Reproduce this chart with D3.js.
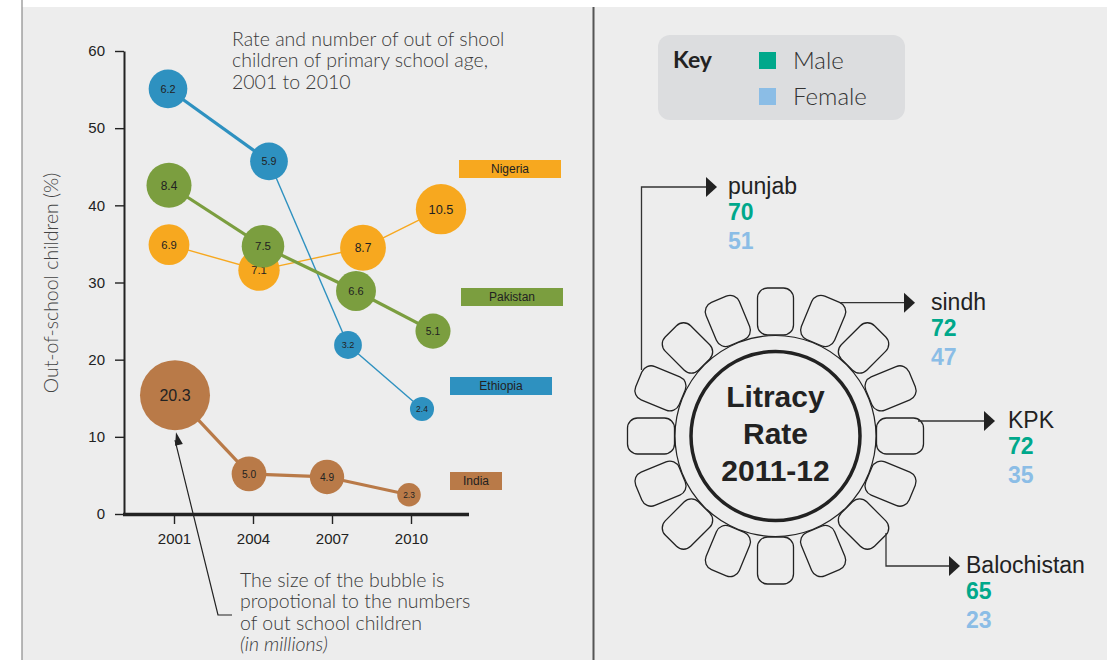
<!DOCTYPE html>
<html>
<head>
<meta charset="utf-8">
<script src="https://cdn.jsdelivr.net/npm/d3@7"></script>
<style>
  body { margin: 0; background: #fff; }
  svg { display: block; }
</style>
</head>
<body>
<script>
// Out-of-school data (left chart)
const years = [2001, 2004, 2007, 2010];
const countries = ["Nigeria", "Ethiopia", "Pakistan", "India"];
const ethiopiaRate = [55.1, 45.7, 21.9, 13.6];
const pakistanRate = [42.6, 34.7, 28.9, 23.7];
const nigeriaRate = [34.9, 31.6, 34.5, 39.5];
const indiaRate = [15.4, 5.2, 4.8, 2.5];
const ethiopiaMillions = [6.2, 5.9, 3.2, 2.4];
const pakistanMillions = [8.4, 7.5, 6.6, 5.1];
const nigeriaMillions = [6.9, 7.1, 8.7, 10.5];
const indiaMillions = [20.3, 5.0, 4.9, 2.3];
const yTicks = [0, 10, 20, 30, 40, 50, 60];

// Literacy data (right panel)
const provinces = ["punjab", "sindh", "KPK", "Balochistan"];
const maleRate = [70, 72, 72, 65];
const femaleRate = [51, 47, 35, 23];

// series table built from the arrays above
const rates = { Ethiopia: ethiopiaRate, Pakistan: pakistanRate, Nigeria: nigeriaRate, India: indiaRate };
const millions = { Ethiopia: ethiopiaMillions, Pakistan: pakistanMillions, Nigeria: nigeriaMillions, India: indiaMillions };

// styling
const colors = { Ethiopia: "#2e91c0", Pakistan: "#7b9e3f", Nigeria: "#f7a81f", India: "#b97a48" };
const segWidth = { Ethiopia: [3.2, 1.4, 1.4], Pakistan: [3.2, 3.2, 3.2], Nigeria: [1.4, 1.4, 1.4], India: [3.2, 3.2, 3.2] };
// hand dodge of bubbles (px) so they don't sit on top of each other
const dodgeX = { Ethiopia: [-6, 16, 16, 11], Pakistan: [-5, 10, 24, 22], Nigeria: [-5, 6, 31, 30], India: [1, -4, -5, -2] };
// country tags
const tags = {
  Nigeria: { x: 459, y: 160, w: 102 },
  Pakistan: { x: 461, y: 288, w: 102 },
  Ethiopia: { x: 450, y: 377, w: 102 },
  India: { x: 450, y: 472, w: 52 }
};
const maleColor = "#00a88b";
const femaleColor = "#8bbde6";
const lightFont = "Lato, 'Open Sans', sans-serif";
const sansFont = "'Liberation Sans', Arial, sans-serif";

const svg = d3.select("body").append("svg")
  .attr("width", 1117)
  .attr("height", 660);

// panels
svg.append("rect").attr("x", 22).attr("y", 7).attr("width", 1085).attr("height", 653).attr("fill", "#ededed");
svg.append("line").attr("x1", 22).attr("x2", 22).attr("y1", 0).attr("y2", 660)
  .attr("stroke", "#8a8a8a").attr("stroke-width", 1.2);
svg.append("line").attr("x1", 593.5).attr("x2", 593.5).attr("y1", 7).attr("y2", 660)
  .attr("stroke", "#555").attr("stroke-width", 2);

// ---------- left chart ----------
const x = d3.scaleLinear().domain([2001, 2010]).range([174, 411]);
const y = d3.scaleLinear().domain([0, 60]).range([514, 51]);
const r = d3.scaleSqrt().domain([0, 20.3]).range([0, 35]);

const chart = svg.append("g");

// y axis
const yAxis = chart.append("g")
  .attr("transform", "translate(124,0)")
  .call(d3.axisLeft(y).tickValues(yTicks).tickSize(9).tickSizeOuter(0).tickPadding(10));
yAxis.select(".domain").attr("stroke", "#222").attr("stroke-width", 2);
yAxis.selectAll(".tick line").attr("stroke", "#222").attr("stroke-width", 1.4);
yAxis.selectAll(".tick text").attr("font-family", sansFont).attr("font-size", 15).attr("fill", "#222");

// x axis
const xAxis = chart.append("g")
  .attr("transform", "translate(0,514)")
  .call(d3.axisBottom(x).tickValues(years).tickFormat(d3.format("d")).tickSize(10).tickPadding(9));
xAxis.select(".domain").remove();
xAxis.selectAll(".tick line").attr("stroke", "#222").attr("stroke-width", 1.4);
xAxis.selectAll(".tick text").attr("font-family", sansFont).attr("font-size", 15).attr("fill", "#222");
chart.append("line").attr("x1", 123).attr("x2", 469).attr("y1", 514.5).attr("y2", 514.5)
  .attr("stroke", "#222").attr("stroke-width", 3.5);

// y title
chart.append("text")
  .attr("transform", "translate(58,283) rotate(-90)")
  .attr("text-anchor", "middle")
  .attr("font-family", lightFont).attr("font-weight", 300).attr("font-size", 19.5)
  .attr("fill", "#444")
  .text("Out-of-school children (%)");

// title
const titleLines = ["Rate and number of out of shool", "children of primary school age,", "2001 to 2010"];
chart.append("g").selectAll("text")
  .data(titleLines)
  .enter().append("text")
  .attr("x", 232)
  .attr("y", (d, i) => 45.5 + i * 21.5)
  .attr("font-family", lightFont).attr("font-weight", 300).attr("font-size", 19.5)
  .attr("fill", "#3a3a3a")
  .text(d => d);

// series
countries.forEach(name => {
  const pts = years.map((yr, i) => ({
    cx: x(yr) + dodgeX[name][i],
    cy: y(rates[name][i]),
    m: millions[name][i]
  }));
  const g = chart.append("g");
  g.selectAll("line")
    .data(d3.pairs(pts))
    .enter().append("line")
    .attr("x1", d => d[0].cx).attr("y1", d => d[0].cy)
    .attr("x2", d => d[1].cx).attr("y2", d => d[1].cy)
    .attr("stroke", colors[name])
    .attr("stroke-width", (d, i) => segWidth[name][i]);
  g.selectAll("circle")
    .data(pts)
    .enter().append("circle")
    .attr("cx", d => d.cx).attr("cy", d => d.cy)
    .attr("r", d => r(d.m))
    .attr("fill", colors[name]);
  g.selectAll("text")
    .data(pts)
    .enter().append("text")
    .attr("x", d => d.cx).attr("y", d => d.cy)
    .attr("dy", "0.36em")
    .attr("text-anchor", "middle")
    .attr("font-family", sansFont)
    .attr("font-size", d => Math.min(16, 4.5 + r(d.m) * 0.33))
    .attr("fill", "#222")
    .text(d => d3.format(".1f")(d.m));

  // tag
  const t = tags[name];
  chart.append("rect").attr("x", t.x).attr("y", t.y).attr("width", t.w).attr("height", 18)
    .attr("fill", colors[name]);
  chart.append("text").attr("x", t.x + t.w / 2).attr("y", t.y + 9).attr("dy", "0.35em")
    .attr("text-anchor", "middle")
    .attr("font-family", sansFont).attr("font-size", 12).attr("fill", "#222")
    .text(name);
});

// note with arrow pointing at the 2001 India bubble
const bigCx = x(years[0]) + dodgeX.India[0];
const bigBottom = y(indiaRate[0]) + r(indiaMillions[0]);
chart.append("polyline")
  .attr("points", `232,615 218,615 ${bigCx},${bigBottom + 10}`)
  .attr("fill", "none").attr("stroke", "#222").attr("stroke-width", 1.2);
const ang = Math.atan2(615 - bigBottom, 218 - bigCx);
const tipX = bigCx + 1, tipY = bigBottom + 2;
const hl = 13, hw = 4;
const bx = tipX + hl * Math.cos(ang), by = tipY + hl * Math.sin(ang);
chart.append("path")
  .attr("d", `M${tipX},${tipY}L${bx - hw * Math.sin(ang)},${by + hw * Math.cos(ang)}L${bx + hw * Math.sin(ang)},${by - hw * Math.cos(ang)}Z`)
  .attr("fill", "#222");

const noteLines = ["The size of the bubble is", "propotional to the numbers", "of out school children"];
chart.append("g").selectAll("text")
  .data(noteLines)
  .enter().append("text")
  .attr("x", 240)
  .attr("y", (d, i) => 587 + i * 21.3)
  .attr("font-family", lightFont).attr("font-weight", 300).attr("font-size", 19.5)
  .attr("fill", "#3a3a3a")
  .text(d => d);
chart.append("text")
  .attr("x", 240).attr("y", 651)
  .attr("font-family", lightFont).attr("font-weight", 300).attr("font-style", "italic").attr("font-size", 19.5)
  .attr("fill", "#3a3a3a")
  .text("(in millions)");

// ---------- right panel ----------
const right = svg.append("g");

// key
right.append("rect").attr("x", 658).attr("y", 35).attr("width", 247).attr("height", 85).attr("rx", 12)
  .attr("fill", "#dcdddf");
right.append("text").attr("x", 673).attr("y", 68)
  .attr("font-family", lightFont).attr("font-weight", 700).attr("font-size", 23).attr("fill", "#222")
  .text("Key");
const keyItems = [["Male", maleColor], ["Female", femaleColor]];
right.selectAll(".key-sq")
  .data(keyItems)
  .enter().append("rect")
  .attr("x", 759).attr("y", (d, i) => 52 + i * 36)
  .attr("width", 17).attr("height", 17)
  .attr("fill", d => d[1]);
right.selectAll(".key-tx")
  .data(keyItems)
  .enter().append("text")
  .attr("x", 793).attr("y", (d, i) => 69 + i * 35.5)
  .attr("font-family", lightFont).attr("font-weight", 300).attr("font-size", 24).attr("fill", "#333")
  .text(d => d[0]);

// round table
const cx = 775.5, cy = 436;
const seats = d3.range(16).map(i => i * 22.5);
right.selectAll(".seat")
  .data(seats)
  .enter().append("rect")
  .attr("transform", d => `translate(${cx},${cy}) rotate(${-d})`)
  .attr("x", 101).attr("y", -18)
  .attr("width", 47).attr("height", 36)
  .attr("rx", 10)
  .attr("fill", "#ededed").attr("stroke", "#222").attr("stroke-width", 1.3);
right.append("circle").attr("cx", cx).attr("cy", cy).attr("r", 100.5)
  .attr("fill", "#ededed").attr("stroke", "#222").attr("stroke-width", 1.2);
right.append("circle").attr("cx", cx).attr("cy", cy).attr("r", 84.5)
  .attr("fill", "none").attr("stroke", "#222").attr("stroke-width", 3.5);
right.selectAll(".center-tx")
  .data(["Litracy", "Rate", "2011-12"])
  .enter().append("text")
  .attr("x", cx).attr("y", (d, i) => 407 + i * 37)
  .attr("text-anchor", "middle")
  .attr("font-family", sansFont).attr("font-weight", 700).attr("font-size", 30).attr("fill", "#222")
  .text(d => d);

// call-outs
const callouts = [
  { path: [[641.5, 370], [641.5, 187]], ay: 187, ax: 717, tx: 728 },
  { path: [[840, 302.7]], ay: 302.7, ax: 915, tx: 931 },
  { path: [[918, 421]], ay: 421, ax: 995, tx: 1008 },
  { path: [[886, 533], [886, 566]], ay: 566, ax: 960, tx: 966 }
];
callouts.forEach((c, i) => {
  const pts = c.path.concat([[c.ax - 10, c.ay]]);
  right.append("path")
    .attr("d", d3.line()(pts))
    .attr("fill", "none").attr("stroke", "#333").attr("stroke-width", 1.3);
  right.append("path")
    .attr("d", `M${c.ax},${c.ay}L${c.ax - 11},${c.ay - 10}L${c.ax - 11},${c.ay + 10}Z`)
    .attr("fill", "#222");
  const lbl = right.append("g").attr("font-family", sansFont).attr("font-size", 23);
  lbl.append("text").attr("x", c.tx).attr("y", c.ay + 7).attr("fill", "#222").text(provinces[i]);
  lbl.append("text").attr("x", c.tx).attr("y", c.ay + 33).attr("font-weight", 700)
    .attr("fill", maleColor).text(maleRate[i]);
  lbl.append("text").attr("x", c.tx).attr("y", c.ay + 62).attr("font-weight", 700)
    .attr("fill", femaleColor).text(femaleRate[i]);
});
</script>
</body>
</html>
